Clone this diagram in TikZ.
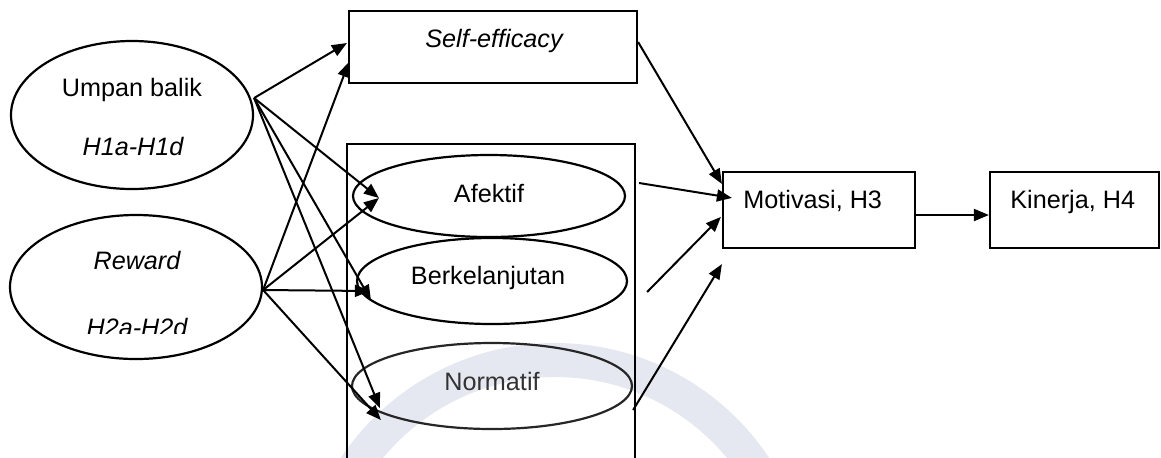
\documentclass[tikz,border=0pt]{standalone}
\usepackage{fontspec}
\setmainfont{Liberation Sans}
\usetikzlibrary{shapes.geometric,arrows.meta,calc}
\begin{document}
\begin{tikzpicture}[x=0.5pt,y=-0.5pt,
  ell/.style={draw,ellipse,line width=1.1pt,inner sep=0pt},
  box/.style={draw,rectangle,line width=1.1pt,inner sep=0pt},
  lbl/.style={font=\fontsize{12.6}{15}\selectfont,anchor=base,inner sep=0pt},
  lblw/.style={lbl,anchor=base west},
  arr/.style={line width=1pt,-{Triangle[length=7.5pt,width=6pt]}}]
\useasboundingbox (0,0) rectangle (1161,457);
\clip (0,0) rectangle (1161,457);
% faint watermark ring
\draw[line width=17pt,color={rgb,255:red,212;green,217;blue,230},opacity=0.6] (555,600) circle[radius=120pt];
% left constructs
\node[ell,minimum width=121pt,minimum height=74pt] (ub) at (132,115) {};
\node[ell,minimum width=126pt,minimum height=72pt] (rw) at (136,287) {};
\node[lbl] (ubt1) at (132,96) {Umpan balik};
\node[lbl] (ubt2) at (133,155) {\itshape H1a-H1d};
\node[lbl] (rwt1) at (137,269) {\itshape Reward};
\begin{scope}
\clip (0,0) rectangle (400,333);
\node[lbl] (rwt2) at (137,336) {\itshape H2a-H2d};
\end{scope}
% middle
\node[box,minimum width=144pt,minimum height=36pt] (se) at (493,47) {};
\node[lbl] (set) at (494,47) {\itshape Self-efficacy};
\node[box,minimum width=144pt,minimum height=163pt] (grp) at (491,307) {};
\node[ell,minimum width=136pt,minimum height=41pt] (af) at (489,196) {};
\node[ell,minimum width=135pt,minimum height=43pt] (bk) at (492,281) {};
\node[ell,minimum width=140pt,minimum height=43pt,draw=black!85] (nm) at (492,386) {};
\node[lbl] (aft) at (489,202) {Afektif};
\node[lbl] (bkt) at (488,284) {Berkelanjutan};
\node[lbl,text=black!80] (nmt) at (492,390) {Normatif};
% right
\node[box,minimum width=96pt,minimum height=38pt] (mo) at (819,210) {};
\node[box,minimum width=84.5pt,minimum height=38pt] (ki) at (1074.5,210) {};
\node[lblw] (mot) at (743,208) {Motivasi, H3};
\node[lblw] (kit) at (1010,208) {Kinerja, H4};
% connector points
\coordinate (ubo) at ($(ub.east)+(0,-17)$);
\coordinate (rwo) at ($(rw.east)+(0,3)$);
\coordinate (seo) at ($(se.east)+(0,-5)$);
\coordinate (afo) at ($(af.east)+(13,-13)$);
\coordinate (bko) at ($(bk.east)+(19,11)$);
\coordinate (nmo) at ($(nm.east)+(0,24)$);
% arrows from Umpan balik
\draw[arr] (ubo) -- ($(se.west)+(-1,-4)$);
\draw[arr] (ubo) -- ($(af.west)+(27,2)$);
\draw[arr] (ubo) -- ($(bk.west)+(15,19)$);
\draw[arr] (ubo) -- ($(nm.west)+(29,22)$);
% arrows from Reward
\draw[arr] (rwo) -- ($(se.west)+(1,15)$);
\draw[arr] (rwo) -- ($(af.west)+(27,2)$);
\draw[arr] (rwo) -- ($(bk.west)+(14,10)$);
\draw[arr] (rwo) -- ($(nm.west)+(30,34)$);
% arrows to Motivasi
\draw[arr] (seo) -- ($(mo.north west)+(0,13)$);
\draw[arr] (afo) -- ($(mo.north west)+(10,27)$);
\draw[arr] (bko) -- ($(mo.north west)+(-1,46)$);
\draw[arr] (nmo) -- ($(mo.south west)+(0,15)$);
\draw[arr] ($(mo.east)+(0,5)$) -- ($(ki.west)+(0,5)$);
\end{tikzpicture}
\end{document}
